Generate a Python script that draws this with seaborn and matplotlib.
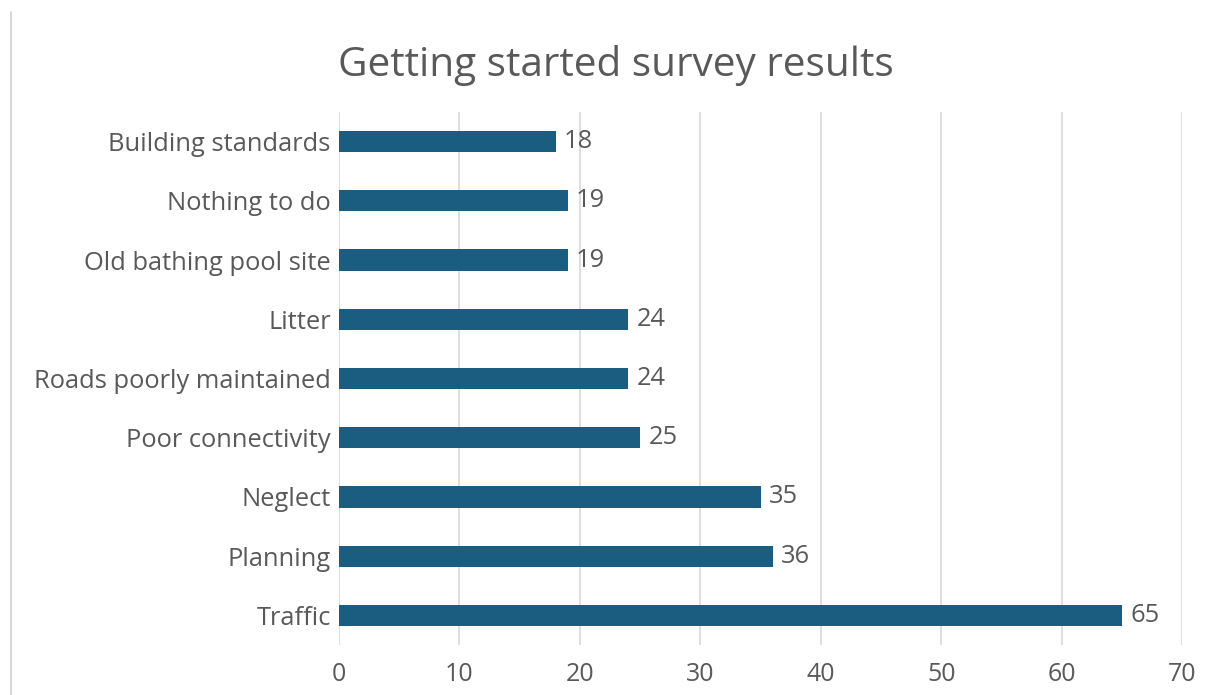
import matplotlib
matplotlib.use("Agg")
import matplotlib.pyplot as plt
import seaborn as sns
import pandas as pd
from matplotlib.lines import Line2D

categories = ["Building standards", "Nothing to do", "Old bathing pool site", "Litter",
              "Roads poorly maintained", "Poor connectivity", "Neglect", "Planning", "Traffic"]
counts = [18, 19, 19, 24, 24, 25, 35, 36, 65]
x_ticks = [0, 10, 20, 30, 40, 50, 60, 70]
title = "Getting started survey results"

sns.set_theme(style="white")
plt.rcParams["font.family"] = ["Open Sans", "DejaVu Sans"]

TEXT = "#595959"
BAR = "#1a5d80"
GRID = "#d9d9d9"

df = pd.DataFrame({"category": categories, "count": counts})

fig = plt.figure(figsize=(12.13, 6.95), dpi=100)
ax = fig.add_axes([339/1213, 1-645/695, (1182-339)/1213, (645-112)/695])

sns.barplot(data=df, y="category", x="count", orient="h", color=BAR,
            width=0.36, saturation=1, linewidth=0, ax=ax, zorder=3)

ax.set_xlim(0, 70)
ax.set_ylim(8.5, -0.5)
ax.set_xticks(x_ticks)
ax.set_xticklabels([str(t) for t in x_ticks], fontsize=18, color=TEXT)
ax.tick_params(axis="y", labelsize=18.4, labelcolor=TEXT, length=0, pad=6)
ax.tick_params(axis="x", length=0, pad=12)
ax.set_xlabel("")
ax.set_ylabel("")
ax.grid(axis="x", color=GRID, linewidth=1.2, zorder=0)
ax.grid(axis="y", visible=False)
for s in ax.spines.values():
    s.set_visible(False)

for c in ax.containers:
    texts = ax.bar_label(c, labels=[str(v) for v in counts], padding=6, fontsize=18.4, color=TEXT)

fig.text(616/1213, 1-65/695, title, ha="center", va="center", fontsize=29.2, color=TEXT)

fig.add_artist(Line2D([11/1213, 11/1213], [0, 1-12/695], color="#d0d0d0", linewidth=1.2))

fig.savefig("out.png", dpi=100, facecolor="white")
